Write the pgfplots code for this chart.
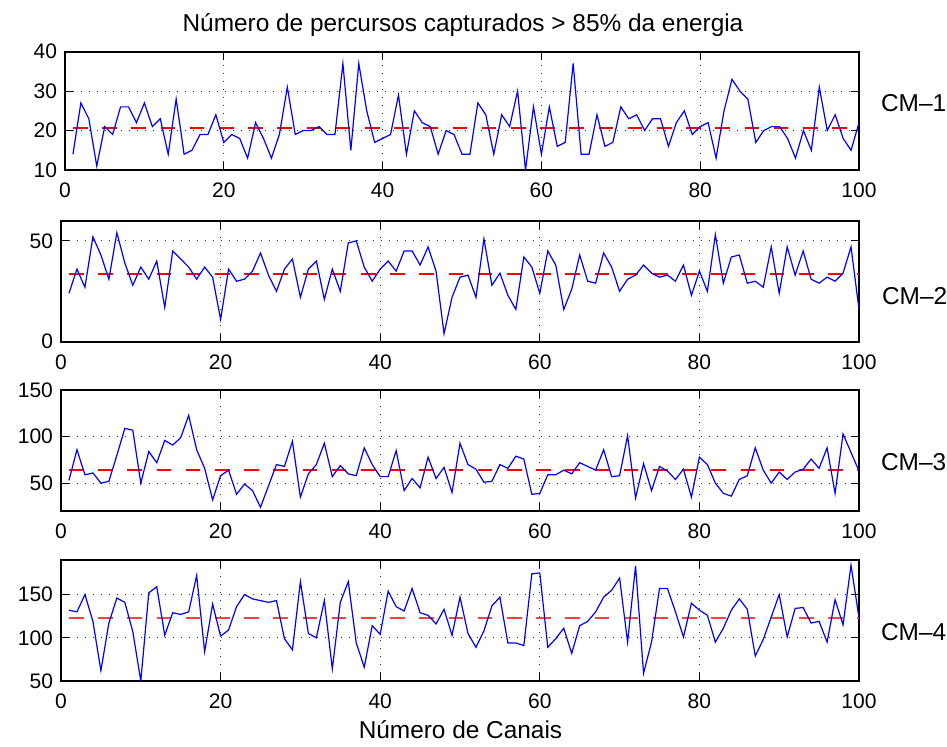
\documentclass[border=0pt]{standalone}
\usepackage{fontspec}
\setmainfont{Liberation Sans}
\usepackage{pgfplots}
\usepackage{pgfplotstable}
\pgfplotsset{compat=1.18}

\pgfplotstableread{
x y
1 14
2 27
3 23
4 11
5 21
6 19
7 26
8 26
9 22
10 27
11 21
12 23
13 14
14 28
15 14
16 15
17 19
18 19
19 24
20 17
21 19
22 18
23 13
24 22
25 18
26 13
27 19
28 31
29 19
30 20
31 20
32 21
33 19
34 19
35 37
36 15
37 37
38 25
39 17
40 18
41 19
42 29
43 14
44 25
45 22
46 21
47 14
48 20
49 19
50 14
51 14
52 27
53 24
54 14
55 24
56 21
57 30
58 10
59 26
60 14
61 26
62 16
63 17
64 37
65 14
66 14
67 24
68 16
69 17
70 26
71 23
72 24
73 20
74 23
75 23
76 16
77 22
78 25
79 19
80 21
81 22
82 13
83 25
84 33
85 30
86 28
87 17
88 20
89 21
90 21
91 18
92 13
93 20
94 15
95 31
96 20
97 24
98 18
99 15
100 22
}\cmA

\pgfplotstableread{
x y
1 24
2 36
3 27
4 52
5 43
6 31
7 54
8 39
9 28
10 37
11 31
12 40
13 17
14 45
15 41
16 37
17 31
18 37
19 32
20 11
21 36
22 30
23 31
24 35
25 44
26 33
27 25
28 36
29 41
30 22
31 36
32 40
33 21
34 36
35 25
36 49
37 50
38 37
39 30
40 36
41 40
42 35
43 45
44 45
45 38
46 47
47 35
48 4
49 22
50 32
51 33
52 22
53 51
54 28
55 34
56 23
57 16
58 42
59 37
60 24
61 45
62 38
63 16
64 26
65 43
66 30
67 29
68 44
69 37
70 25
71 31
72 33
73 38
74 34
75 32
76 33
77 30
78 38
79 23
80 35
81 25
82 53
83 29
84 42
85 43
86 29
87 30
88 27
89 47
90 24
91 47
92 33
93 45
94 31
95 29
96 32
97 30
98 34
99 47
100 16
}\cmB

\pgfplotstableread{
x y
1 53
2 86
3 59
4 61
5 50
6 52
7 80
8 109
9 107
10 50
11 84
12 72
13 96
14 91
15 99
16 123
17 86
18 66
19 32
20 58
21 64
22 38
23 49
24 42
25 24
26 47
27 70
28 68
29 95
30 35
31 60
32 70
33 93
34 57
35 69
36 60
37 58
38 88
39 70
40 57
41 57
42 85
43 42
44 55
45 45
46 78
47 55
48 67
49 40
50 93
51 70
52 65
53 51
54 52
55 70
56 66
57 79
58 76
59 38
60 39
61 59
62 59
63 64
64 60
65 72
66 68
67 64
68 86
69 57
70 58
71 101
72 34
73 71
74 42
75 68
76 63
77 54
78 65
79 35
80 78
81 70
82 50
83 39
84 36
85 54
86 58
87 88
88 64
89 50
90 62
91 54
92 62
93 65
94 76
95 66
96 88
97 39
98 103
99 83
100 63
}\cmC

\pgfplotstableread{
x y
1 132
2 130
3 150
4 119
5 62
6 117
7 146
8 141
9 107
10 50
11 152
12 159
13 103
14 129
15 127
16 130
17 172
18 84
19 139
20 102
21 109
22 136
23 150
24 145
25 143
26 141
27 143
28 99
29 86
30 165
31 105
32 100
33 143
34 64
35 141
36 165
37 94
38 66
39 114
40 104
41 154
42 136
43 131
44 157
45 129
46 126
47 116
48 133
49 103
50 147
51 105
52 89
53 108
54 137
55 147
56 94
57 94
58 91
59 174
60 175
61 89
62 99
63 111
64 82
65 114
66 119
67 130
68 147
69 155
70 169
71 95
72 183
73 59
74 95
75 157
76 157
77 130
78 101
79 140
80 132
81 126
82 95
83 111
84 132
85 145
86 133
87 79
88 98
89 124
90 150
91 101
92 134
93 135
94 117
95 119
96 95
97 144
98 115
99 184
100 123
}\cmD

\pgfplotstableread{
x y
1 20.7
100 20.7
}\meanA
\pgfplotstableread{
x y
1 33.7
100 33.7
}\meanB
\pgfplotstableread{
x y
1 64.6
100 64.6
}\meanC
\pgfplotstableread{
x y
1 123.3
100 123.3
}\meanD

\pgfplotsset{
  msub/.style={
    scale only axis,
    xmin=0, xmax=100, xtick={0,20,40,60,80,100},
    grid=major,
    major grid style={black!80, line width=0.55pt, dash pattern=on 0.55pt off 3.45pt},
    axis line style={black, line width=0.9pt},
    tick style={black, line width=0.5pt},
    major tick length=4pt,
    tick align=inside,
    ticklabel style={font=\fontsize{10.5}{12}\selectfont},
    /pgf/number format/assume math mode=true,
    xticklabel style={yshift=-3pt},
    yticklabel style={xshift=-0.5pt},
  },
}

\begin{document}
\begin{tikzpicture}
\useasboundingbox (0,0) rectangle (473.5pt,-373.5pt);

\begin{axis}[msub, at={(32.5pt,-25.85pt)}, anchor=north west,
  width=397pt, height=59.15pt, ymin=10, ymax=40, ytick={10,20,30,40}]
\addplot[draw=red, line width=0.85pt, dash pattern=on 7.3pt off 7.3pt] table[x=x,y=y] {\meanA};
\addplot[draw=blue, line width=0.6pt] table[x=x,y=y] {\cmA};
\end{axis}

\begin{axis}[msub, at={(30.5pt,-110.35pt)}, anchor=north west,
  width=399pt, height=60.5pt, ymin=0, ymax=60, ytick={0,50}]
\addplot[draw=red, line width=0.85pt, dash pattern=on 7.3pt off 7.3pt] table[x=x,y=y] {\meanB};
\addplot[draw=blue, line width=0.6pt] table[x=x,y=y] {\cmB};
\end{axis}

\begin{axis}[msub, at={(30.5pt,-195.15pt)}, anchor=north west,
  width=399pt, height=60.35pt, ymin=20, ymax=150, ytick={50,100,150}]
\addplot[draw=red, line width=1pt, dash pattern=on 7.3pt off 7.3pt] table[x=x,y=y] {\meanC};
\addplot[draw=blue, line width=0.6pt] table[x=x,y=y] {\cmC};
\end{axis}

\begin{axis}[msub, at={(30.5pt,-280pt)}, anchor=north west,
  width=399pt, height=60.5pt, ymin=50, ymax=190, ytick={50,100,150}]
\addplot[draw=red!75, line width=1pt, dash pattern=on 7.3pt off 7.3pt] table[x=x,y=y] {\meanD};
\addplot[draw=blue, line width=0.6pt] table[x=x,y=y] {\cmD};
\end{axis}

\node[anchor=base, font=\fontsize{12.2}{14}\selectfont] at (231.5pt,-16pt) {Número de percursos capturados > 85\% da energia};
\node[anchor=base west, font=\fontsize{12.2}{14}\selectfont] at (437pt,-56pt) {CM–1};
\node[anchor=base west, font=\fontsize{12.2}{14}\selectfont] at (437.5pt,-152.5pt) {CM–2};
\node[anchor=base west, font=\fontsize{12.2}{14}\selectfont] at (437pt,-235.5pt) {CM–3};
\node[anchor=base west, font=\fontsize{12.2}{14}\selectfont] at (437pt,-320pt) {CM–4};
\node[anchor=base, font=\fontsize{12.2}{14}\selectfont] at (230.25pt,-369.3pt) {Número de Canais};
\end{tikzpicture}
\end{document}
